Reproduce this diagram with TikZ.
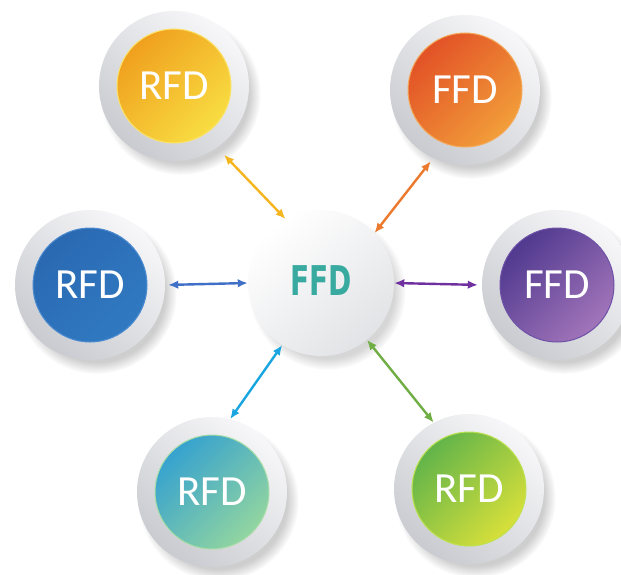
\documentclass[tikz,border=0pt]{standalone}
\usepackage{fontspec}
\usepackage{graphicx}
\setmainfont{Carlito}
\newfontfamily\ffdfont{DejaVu Sans Condensed}
\usetikzlibrary{arrows.meta,shadows}
\definecolor{ringA}{HTML}{F7F7F9}
\definecolor{ringB}{HTML}{C9CBD0}
\definecolor{ctrB}{HTML}{E2E3E6}
\definecolor{ffdteal}{HTML}{38AAA0}
\definecolor{yA}{HTML}{F0A01E}\definecolor{yB}{HTML}{F8DD42}\definecolor{yE}{HTML}{FBE36A}
\definecolor{oA}{HTML}{E25226}\definecolor{oB}{HTML}{F29E3A}\definecolor{oE}{HTML}{F4A95A}
\definecolor{bA}{HTML}{2A69B2}\definecolor{bB}{HTML}{307AC2}\definecolor{bE}{HTML}{4C8BD0}
\definecolor{pA}{HTML}{50398F}\definecolor{pB}{HTML}{A275BA}\definecolor{pE}{HTML}{6F52A8}
\definecolor{tA}{HTML}{36A2CF}\definecolor{tB}{HTML}{92D5A0}\definecolor{tE}{HTML}{A8DDA8}
\definecolor{gA}{HTML}{62B44A}\definecolor{gB}{HTML}{D8E03A}\definecolor{gE}{HTML}{BDE250}
\definecolor{c1}{HTML}{F5B51F}
\definecolor{c2}{HTML}{EC7A2E}
\definecolor{c3}{HTML}{3F6FC6}
\definecolor{c4}{HTML}{7030A0}
\definecolor{c5}{HTML}{19A6E0}
\definecolor{c6}{HTML}{6FAD45}
\tikzset{
  ring/.style={circle, minimum size=150pt, inner sep=0pt,
    top color=ringA, bottom color=ringB, shading angle=-40,
    circular drop shadow={shadow xshift=6pt, shadow yshift=-8pt, shadow scale=1.07, opacity=0.38}},
  disc/.style={circle, minimum size=114pt, inner sep=0pt, text=white,
    font=\fontsize{43}{43}\selectfont, line width=1pt},
  hub/.style={circle, minimum size=146pt, inner sep=0pt,
    top color=white, bottom color=ctrB, shading angle=40,
    circular drop shadow={shadow xshift=6pt, shadow yshift=-8pt, shadow scale=1.07, opacity=0.32}},
  link/.style={{Latex[length=10pt,width=8.5pt]}-{Latex[length=10pt,width=8.5pt]}, line width=2.4pt},
}
\begin{document}
\begin{tikzpicture}[x=1pt,y=-1pt]
\useasboundingbox[fill=white] (0,0) rectangle (621,575);
% hub
\node[hub] (c) at (321,283) {\raisebox{4pt}{\textcolor{ffdteal}{\scalebox{0.76}[1]{\ffdfont\bfseries\fontsize{41}{41}\selectfont FFD}}}};
% satellites
\node[ring] (o1) at (174,86) {};
\node[disc, draw=yE, top color=yA, bottom color=yB, shading angle=45] (i1) at (o1) {RFD};
\node[ring] (o2) at (465,90) {};
\node[disc, draw=oE, top color=oA, bottom color=oB, shading angle=45] (i2) at (o2) {FFD};
\node[ring] (o3) at (90,285) {};
\node[disc, draw=bE, top color=bA, bottom color=bB, shading angle=45] (i3) at (o3) {RFD};
\node[ring] (o4) at (557,285) {};
\node[disc, draw=pE, top color=pA, bottom color=pB, shading angle=45] (i4) at (o4) {FFD};
\node[ring] (o5) at (212,492) {};
\node[disc, draw=tE, top color=tA, bottom color=tB, shading angle=45] (i5) at (o5) {RFD};
\node[ring] (o6) at (469,489) {};
\node[disc, draw=gE, top color=gA, bottom color=gB, shading angle=45] (i6) at (o6) {RFD};
% links
\draw[link, c1, shorten <=10pt] (o1.-55) -- (c.119);
\draw[link, c2, shorten <=4pt] (o2.-115) -- (c.43);
\draw[link, c3, shorten <=3pt] (o3.0) -- (c.180);
\draw[link, c4, shorten >=4pt] (c.0) -- (o4.180);
\draw[link, c5] (o5.76) -- (c.-122);
\draw[link, c6] (c.-51) -- (o6.118);
\end{tikzpicture}
\end{document}
